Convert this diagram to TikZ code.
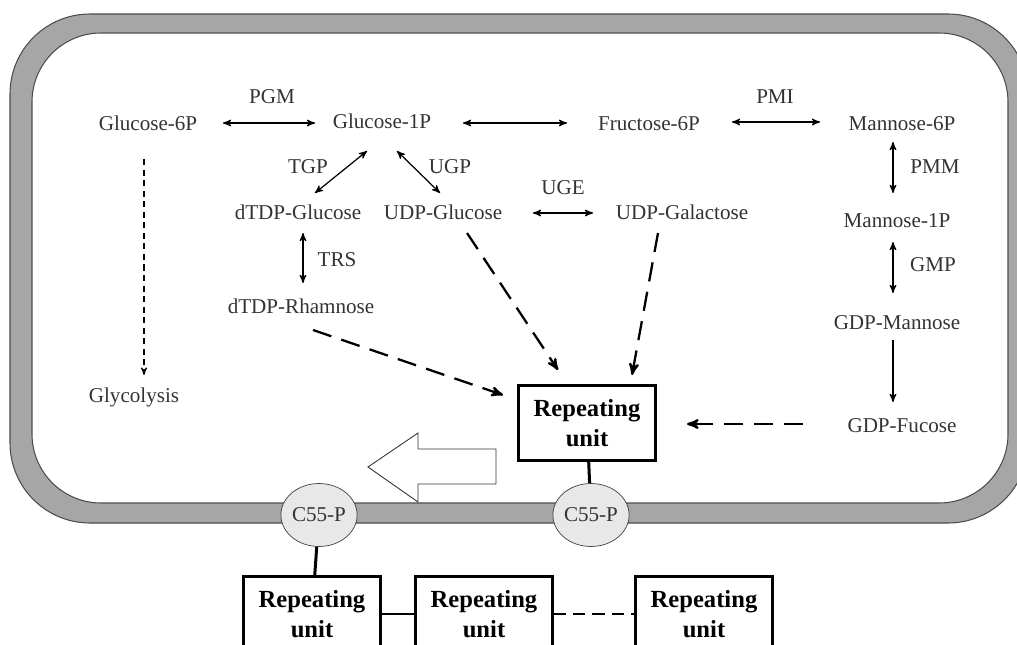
\documentclass[tikz,border=0pt]{standalone}
\usepackage{fontspec}
\setmainfont{Liberation Serif}
\usetikzlibrary{arrows,calc,shapes.geometric}
\definecolor{txt}{HTML}{333333}
\definecolor{memb}{HTML}{A6A6A6}
\definecolor{lipid}{HTML}{E8E8E8}
\tikzset{
    metab/.style =  {text=txt,
                    inner sep=0pt,
                    text height=8pt,
                    text depth=2.5pt,
                    font=\fontsize{12}{14}\selectfont},
    enzyme/.style = {metab},
    unit/.style =   {rectangle,
                    fill=white,
                    draw=black,
                    text=black,
                    line width=1.2pt,
                    align=center,
                    minimum width=2.74cm,
                    minimum height=1.5cm,
                    font=\fontsize{14}{17}\selectfont\bfseries},
    carrier/.style = {ellipse,
                    fill=lipid,
                    draw=black!75,
                    text=txt,
                    inner sep=0pt,
                    minimum width=1.5cm,
                    minimum height=1.26cm,
                    font=\fontsize{12}{14}\selectfont},
    rev/.style =    {<->, line width=0.7pt},
    fwd/.style =    {->, line width=0.7pt},
    feed/.style =   {->, line width=1.3pt, dash pattern=on 11pt off 6pt},
    link/.style =   {line width=1.7pt},
    >=stealth'}

\begin{document}
\begin{tikzpicture}[x=0.02cm,y=-0.02cm]
    \useasboundingbox (0,0) rectangle (1017,645);
    \clip (0,0) rectangle (1017,645);
    % membrane
    \draw[fill=memb,draw=black!70,line width=0.6pt,rounded corners=1.6cm] (10,14) rectangle (1028,523);
    \draw[fill=white,draw=black!70,line width=0.6pt,rounded corners=1.38cm] (32,33) rectangle (1008,503);

    % metabolites
    \node[metab]    (g6p)    at (148,126)  {Glucose-6P};
    \node[metab]    (g1p)    at (382,124)  {Glucose-1P};
    \node[metab]    (f6p)    at (649,126)  {Fructose-6P};
    \node[metab]    (m6p)    at (902,126)  {Mannose-6P};
    \node[metab]    (m1p)    at (897,223)  {Mannose-1P};
    \node[metab]    (gdpman) at (897,325)  {GDP-Mannose};
    \node[metab]    (gdpfuc) at (902,428)  {GDP-Fucose};
    \node[metab]    (dtdpg)  at (298,215)  {dTDP-Glucose};
    \node[metab]    (udpg)   at (443,215)  {UDP-Glucose};
    \node[metab]    (udpgal) at (682,215)  {UDP-Galactose};
    \node[metab]    (dtdpr)  at (301,309)  {dTDP-Rhamnose};
    \node[metab]    (glyc)   at (134,398)  {Glycolysis};

    % enzymes
    \node[enzyme]   (pgm) at (272,99)  {PGM};
    \node[enzyme]   (pmi) at (775,99)  {PMI};
    \node[enzyme]   (pmm) at (935,169) {PMM};
    \node[enzyme]   (gmp) at (933,267) {GMP};
    \node[enzyme]   (tgp) at (308,169) {TGP};
    \node[enzyme]   (ugp) at (450,169) {UGP};
    \node[enzyme]   (uge) at (563,190) {UGE};
    \node[enzyme]   (trs) at (337,262) {TRS};

    % repeating units and carriers
    \node[unit]     (ru)  at (587,423) {Repeating\\unit};
    \node[carrier]  (c55r) at (591,515) {C55-P};
    \node[carrier]  (c55l) at (319,515) {C55-P};
    \node[unit]     (ru1) at (312,614) {Repeating\\unit};
    \node[unit]     (ru2) at (484,614) {Repeating\\unit};
    \node[unit]     (ru3) at (704,614) {Repeating\\unit};

    % export arrow
    \draw[fill=white,draw=black!80,line width=0.5pt] (368,467) -- (418,433) -- (418,449) -- (496,449)
        -- (496,484) -- (418,484) -- (418,502) -- cycle;

    \path [rev] ($(g6p)+(75,-3)$)   edge ($(g1p)+(-67,-1)$)
                ($(g1p)+(81,-1)$)   edge ($(f6p)+(-82,-3)$)
                ($(f6p)+(83,-4)$)   edge ($(m6p)+(-82,-4)$)
                ($(m6p)+(-9,16)$)   edge ($(m1p)+(-4,-30)$)
                ($(m1p)+(-4,19)$)   edge ($(gdpman)+(-4,-32)$)
                ($(g1p)+(-15,27)$)  edge ($(dtdpg)+(17,-22)$)
                ($(g1p)+(15,27)$)   edge ($(udpg)+(-3,-22)$)
                ($(udpg)+(90,-2)$)  edge ($(udpgal)+(-89,-2)$)
                ($(dtdpg)+(5,18)$)  edge ($(dtdpr)+(2,-26)$);
    \path [fwd] ($(gdpman)+(-4,15)$) edge ($(gdpfuc)+(-9,-26)$);
    \path [fwd,line width=0.6pt,dash pattern=on 3.5pt off 2.5pt]
                ($(g6p)+(-4,33)$)   edge ($(glyc)+(10,-23)$);
    \path [feed] ($(dtdpr)+(12,21)$)   edge ($(ru)+(-84,-28)$)
                 ($(udpg)+(24,18)$)    edge ($(ru)+(-29,-53)$)
                 ($(udpgal)+(-24,18)$) edge ($(ru)+(45,-48)$)
                 ($(gdpfuc)+(-99,-4)$) edge ($(ru)+(100,1)$);

    \draw [link] (ru) -- (c55r);
    \draw [link] (c55l) -- (ru1);
    \draw [link] (ru1) -- (ru2);
    \draw [link,dash pattern=on 7pt off 4pt] (ru2) -- (ru3);
\end{tikzpicture}
\end{document}
